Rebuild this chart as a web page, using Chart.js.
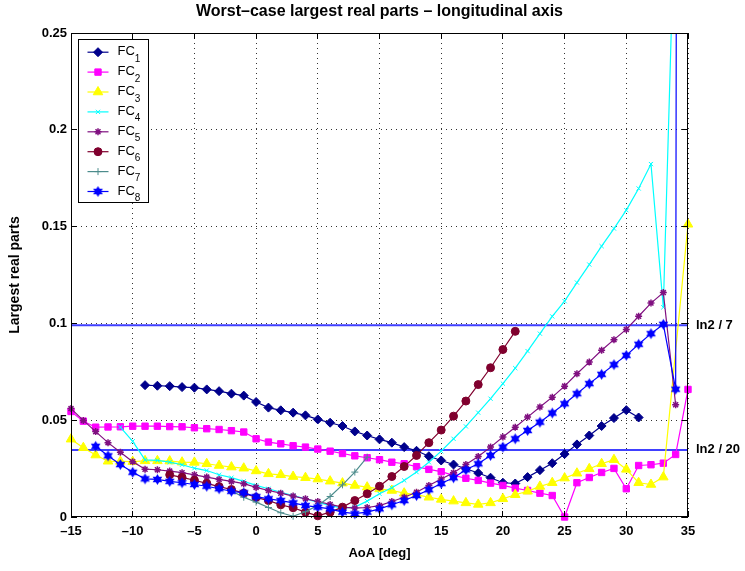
<!DOCTYPE html>
<html>
<head>
<meta charset="utf-8">
<title>Worst-case largest real parts</title>
<script src="https://cdn.jsdelivr.net/npm/chart.js@4.4.1/dist/chart.umd.min.js"></script>
<style>
  html, body { margin: 0; padding: 0; background: #fff; }
  canvas { display: block; }
</style>
</head>
<body>
<canvas id="chart-fc" width="745" height="571"></canvas>
<script>
// angle of attack, one entry per degree
const aoa = [-15, -14, -13, -12, -11, -10, -9, -8, -7, -6, -5, -4, -3, -2, -1, 0,
  1, 2, 3, 4, 5, 6, 7, 8, 9, 10, 11, 12, 13, 14, 15, 16, 17, 18, 19, 20,
  21, 22, 23, 24, 25, 26, 27, 28, 29, 30, 31, 32, 33, 34, 35];

const fc1 = [null, null, null, null, null, null,
  0.0681, 0.0678, 0.0676, 0.0671, 0.0668, 0.0659, 0.0650, 0.0637, 0.0627, 0.0594,
  0.0565, 0.0551, 0.0539, 0.0525, 0.0504, 0.0487, 0.0470, 0.0442, 0.0421, 0.0401,
  0.0384, 0.0361, 0.0342, 0.0314, 0.0292, 0.0271, 0.0249, 0.0227, 0.0203, 0.0177,
  0.0173, 0.0206, 0.0242, 0.0278, 0.0325, 0.0375, 0.0421, 0.0470, 0.0511, 0.0552, 0.0514,
  null, null, null, null];
const fc2 = [0.0545, 0.0495, 0.0464, 0.0465, 0.0466, 0.0469, 0.0469, 0.0469, 0.0467, 0.0466,
  0.0461, 0.0456, 0.0452, 0.0446, 0.0439, 0.0404, 0.0387, 0.0378, 0.0368, 0.0361,
  0.0351, 0.0340, 0.0328, 0.0316, 0.0306, 0.0296, 0.0283, 0.0275, 0.0260, 0.0246,
  0.0234, 0.0215, 0.0200, 0.0189, 0.0175, 0.0163, 0.0149, 0.0137, 0.0123, 0.0111,
  0.0, 0.0177, 0.0204, 0.0230, 0.0251, 0.0146, 0.0266, 0.0270, 0.0278, 0.0323, 0.0659];
const fc3 = [0.0402, 0.0358, 0.0320, 0.0288, 0.0287, 0.0286, 0.0290, 0.0290, 0.0289, 0.0283,
  0.0282, 0.0275, 0.0266, 0.0258, 0.0252, 0.0238, 0.0223, 0.0218, 0.0209, 0.0203,
  0.0196, 0.0185, 0.0175, 0.0163, 0.0154, 0.0145, 0.0137, 0.0123, 0.0116, 0.0102,
  0.0091, 0.0082, 0.0073, 0.0065, 0.0073, 0.0094, 0.0115, 0.0133, 0.0158, 0.0177,
  0.0201, 0.0226, 0.0249, 0.0275, 0.0296, 0.0246, 0.0177, 0.0168, 0.0206, null, 0.1512];
const fc4 = [null, null, null, null,
  0.0464, 0.0391, 0.0295, 0.0292, 0.0283, 0.0270, 0.0252, 0.0240, 0.0218, 0.0203,
  0.0184, 0.0163, 0.0146, 0.0128, 0.0111, 0.0094, 0.0077, 0.0059, 0.0046, 0.0051,
  0.0082, 0.0120, 0.0151, 0.0189, 0.0232, 0.0283, 0.0340, 0.0404, 0.0468, 0.0539,
  0.0611, 0.0689, 0.0769, 0.0857, 0.0947, 0.1036, 0.1115, 0.1211, 0.1304, 0.1399,
  0.1490, 0.1585, 0.1697, 0.1823, 0.1083, 0.33,
  null];
const fc5 = [0.0560, 0.0499, 0.0441, 0.0384, 0.0334, 0.0286, 0.0247, 0.0244, 0.0237, 0.0229,
  0.0218, 0.0206, 0.0194, 0.0184, 0.0172, 0.0153, 0.0137, 0.0123, 0.0108, 0.0094,
  0.0080, 0.0065, 0.0051, 0.0046, 0.0049, 0.0059, 0.0080, 0.0102, 0.0128, 0.0163,
  0.0196, 0.0229, 0.0271, 0.0313, 0.0361, 0.0413, 0.0464, 0.0516, 0.0568, 0.0619,
  0.0676, 0.0740, 0.0800, 0.0861, 0.0916, 0.0969, 0.1037, 0.1105, 0.1159, 0.0580,
  null];
const fc6 = [null, null, null, null, null, null, null, null,
  0.0218, 0.0205, 0.0190, 0.0174, 0.0157, 0.0142, 0.0123, 0.0101, 0.0085, 0.0063,
  0.0048, 0.0025, 0.0006, 0.0025, 0.0051, 0.0085, 0.0120, 0.0159, 0.0209, 0.0261,
  0.0318, 0.0384, 0.0449, 0.0521, 0.0599, 0.0684, 0.0771, 0.0865, 0.0959,
  null, null, null, null, null, null, null, null, null, null, null, null, null, null];
const fc7 = [null, null, null, null, null, null, null, null, null, null, null, null, null,
  0.0135, 0.0102, 0.0077, 0.0049, 0.0022, 0.0004, 0.0027, 0.0060, 0.0106, 0.0166, 0.0232, 0.0309,
  null, null, null, null, null, null, null, null, null, null, null, null, null,
  null, null, null, null, null, null, null, null, null, null, null, null, null];
const fc8 = [null, null,
  0.0365, 0.0316, 0.0271, 0.0231, 0.0197, 0.0194, 0.0184, 0.0177, 0.0168, 0.0159,
  0.0146, 0.0133, 0.0125, 0.0105, 0.0094, 0.0085, 0.0073, 0.0059, 0.0051, 0.0042,
  0.0025, 0.0017, 0.0025, 0.0042, 0.0063, 0.0085, 0.0111, 0.0141, 0.0173, 0.0203,
  0.0244, 0.0275, 0.0318, 0.0361, 0.0404, 0.0447, 0.0490, 0.0537, 0.0585, 0.0637,
  0.0689, 0.0737, 0.0787, 0.0835, 0.0892, 0.0947, 0.0995, 0.0660, 4.0];

const xTicks = [-15, -10, -5, 0, 5, 10, 15, 20, 25, 30, 35];
const yTicks = [0, 0.05, 0.1, 0.15, 0.2, 0.25];

// time-to-double limits: ln2 / 7 and ln2 / 20
const limits = [Math.LN2 / 7, Math.LN2 / 20];
const limitLabels = ['ln2 / 7', 'ln2 / 20'];

const FONT = '"Liberation Sans", Arial, Helvetica, sans-serif';

// filled six-pointed star for FC8
const hexagram = (color, r) => {
    const c = document.createElement('canvas');
    const s = Math.ceil(2 * r + 2);
    c.width = c.height = s;
    const g = c.getContext('2d');
    g.fillStyle = color;
    g.beginPath();
    for (let k = 0; k < 12; k++) {
        const a = -Math.PI / 2 + k * Math.PI / 6;
        const rr = k % 2 ? r * 0.58 : r;
        g.lineTo(s / 2 + rr * Math.cos(a), s / 2 + rr * Math.sin(a));
    }
    g.closePath();
    g.fill();
    return c;
};

const series = [
    { label: '1', data: fc1, color: '#00008c', style: 'rectRot', radius: 4.5 },
    { label: '2', data: fc2, color: '#ff00ff', style: 'rect', radius: 4.5 },
    { label: '3', data: fc3, color: '#ffff00', style: 'triangle', radius: 5.5, spanGaps: true },
    { label: '4', data: fc4, color: '#00ffff', style: 'crossRot', radius: 3 },
    { label: '5', data: fc5, color: '#801080', style: 'star', radius: 3.5, border: 1.5 },
    { label: '6', data: fc6, color: '#80002e', style: 'circle', radius: 4 },
    { label: '7', data: fc7, color: '#4c8c8c', style: 'cross', radius: 3.5 },
    { label: '8', data: fc8, color: '#0000ff', style: hexagram('#0000ff', 5.5), radius: 5 }
];

const toPoints = (ys) => aoa.map((x, i) => ({ x: x, y: ys[i] }));

const datasets = series.map((s, i) => ({
    label: 'FC' + s.label,
    data: toPoints(s.data),
    borderColor: s.color,
    backgroundColor: s.color,
    borderWidth: 1.2,
    pointStyle: s.style,
    pointRadius: s.radius,
    pointBorderWidth: s.border || 1,
    pointBackgroundColor: s.color,
    pointBorderColor: s.color,
    spanGaps: !!s.spanGaps,
    tension: 0,
    order: series.length - i,
    clip: { left: 10, top: 0, right: 10, bottom: 10 }
}));

limits.forEach((v) => {
    datasets.push({
        label: '',
        data: [{ x: aoa[0], y: v }, { x: aoa[aoa.length - 1], y: v }],
        borderColor: '#4040ff',
        borderWidth: 2,
        pointRadius: 0,
        order: 20,
        clip: 0
    });
});

// box, inward ticks, limit labels and the legend
const frameAndLegend = {
    id: 'frameAndLegend',
    afterDraw(chart) {
        const { ctx, chartArea: a, scales: { x, y } } = chart;
        const H = Chart.helpers;
        ctx.save();
        ctx.strokeStyle = '#000';
        ctx.lineWidth = 1;
        ctx.beginPath();
        xTicks.forEach((v) => {
            const px = Math.round(x.getPixelForValue(v) - 0.5) + 0.5;
            ctx.moveTo(px, a.bottom); ctx.lineTo(px, a.bottom - 6);
            ctx.moveTo(px, a.top); ctx.lineTo(px, a.top + 6);
        });
        yTicks.forEach((v) => {
            const py = Math.round(y.getPixelForValue(v) - 0.5) + 0.5;
            ctx.moveTo(a.left, py); ctx.lineTo(a.left + 6, py);
            ctx.moveTo(a.right, py); ctx.lineTo(a.right - 6, py);
        });
        ctx.stroke();
        ctx.strokeRect(Math.round(a.left) + 0.5, Math.round(a.top) + 0.5,
            Math.round(a.width) - 1, Math.round(a.height) - 1);

        ctx.fillStyle = '#000';
        ctx.font = 'bold 13px ' + FONT;
        ctx.textAlign = 'left';
        ctx.textBaseline = 'middle';
        limits.forEach((v, i) => {
            ctx.fillText(limitLabels[i], a.right + 8, y.getPixelForValue(v));
        });

        // legend
        const bx = Math.round(a.left) + 7.5, by = Math.round(a.top) + 6.5;
        ctx.fillStyle = '#fff';
        ctx.fillRect(bx, by, 70, 163);
        ctx.strokeRect(bx, by, 70, 163);
        series.forEach((s, i) => {
            const ly = by + 12.7 + i * 19.9;
            ctx.strokeStyle = s.color;
            ctx.fillStyle = s.color;
            ctx.lineWidth = 1.2;
            ctx.beginPath();
            ctx.moveTo(bx + 9, ly);
            ctx.lineTo(bx + 30, ly);
            ctx.stroke();
            ctx.lineWidth = s.border || 1;
            H.drawPoint(ctx, { pointStyle: s.style, rotation: 0, radius: s.radius, borderWidth: s.border || 1 }, bx + 19.5, ly);
            ctx.fillStyle = '#000';
            ctx.textBaseline = 'alphabetic';
            ctx.font = '13px ' + FONT;
            ctx.fillText('FC', bx + 39, ly + 3);
            const w = ctx.measureText('FC').width;
            ctx.font = '10px ' + FONT;
            ctx.fillText(s.label, bx + 39 + w, ly + 9.5);
        });
        ctx.restore();
    }
};

new Chart(document.getElementById('chart-fc').getContext('2d'), {
    type: 'line',
    data: { datasets: datasets },
    options: {
        responsive: false,
        animation: false,
        events: [],
        layout: { padding: { left: 0, right: 57, top: 0, bottom: 0 } },
        scales: {
            x: {
                type: 'linear',
                min: -15,
                max: 35,
                afterBuildTicks: (scale) => { scale.ticks = xTicks.map((v) => ({ value: v })); },
                afterFit: (scale) => { scale.height = 54; },
                ticks: {
                    color: '#000',
                    padding: 7,
                    font: { family: FONT, size: 13, weight: 'bold' },
                    callback: (v) => String(v).replace('-', '\u2013')
                },
                grid: { color: 'rgba(0,0,0,0.8)', lineWidth: 1, drawTicks: false },
                border: { display: false, dash: [1, 4] },
                title: {
                    display: true,
                    text: 'AoA [deg]',
                    color: '#000',
                    font: { family: FONT, size: 13, weight: 'bold' },
                    padding: { top: 0, bottom: 10 }
                }
            },
            y: {
                min: 0,
                max: 0.25,
                afterBuildTicks: (scale) => { scale.ticks = yTicks.map((v) => ({ value: v })); },
                afterFit: (scale) => { scale.width = 71; },
                ticks: {
                    color: '#000',
                    padding: 4,
                    font: { family: FONT, size: 13, weight: 'bold' },
                    callback: (v) => String(v)
                },
                grid: { color: 'rgba(0,0,0,0.8)', lineWidth: 1, drawTicks: false },
                border: { display: false, dash: [1, 4] },
                title: {
                    display: true,
                    text: 'Largest real parts',
                    color: '#000',
                    font: { family: FONT, size: 14, weight: 'bold' },
                    padding: { top: 7, bottom: 0 }
                }
            }
        },
        plugins: {
            legend: { display: false },
            tooltip: { enabled: false },
            title: {
                display: true,
                fullSize: false,
                text: 'Worst\u2013case largest real parts \u2013 longitudinal axis',
                color: '#000',
                font: { family: FONT, size: 16, weight: 'bold' },
                padding: { top: 2.4, bottom: 11.4 }
            }
        }
    },
    plugins: [frameAndLegend]
});
</script>
</body>
</html>
